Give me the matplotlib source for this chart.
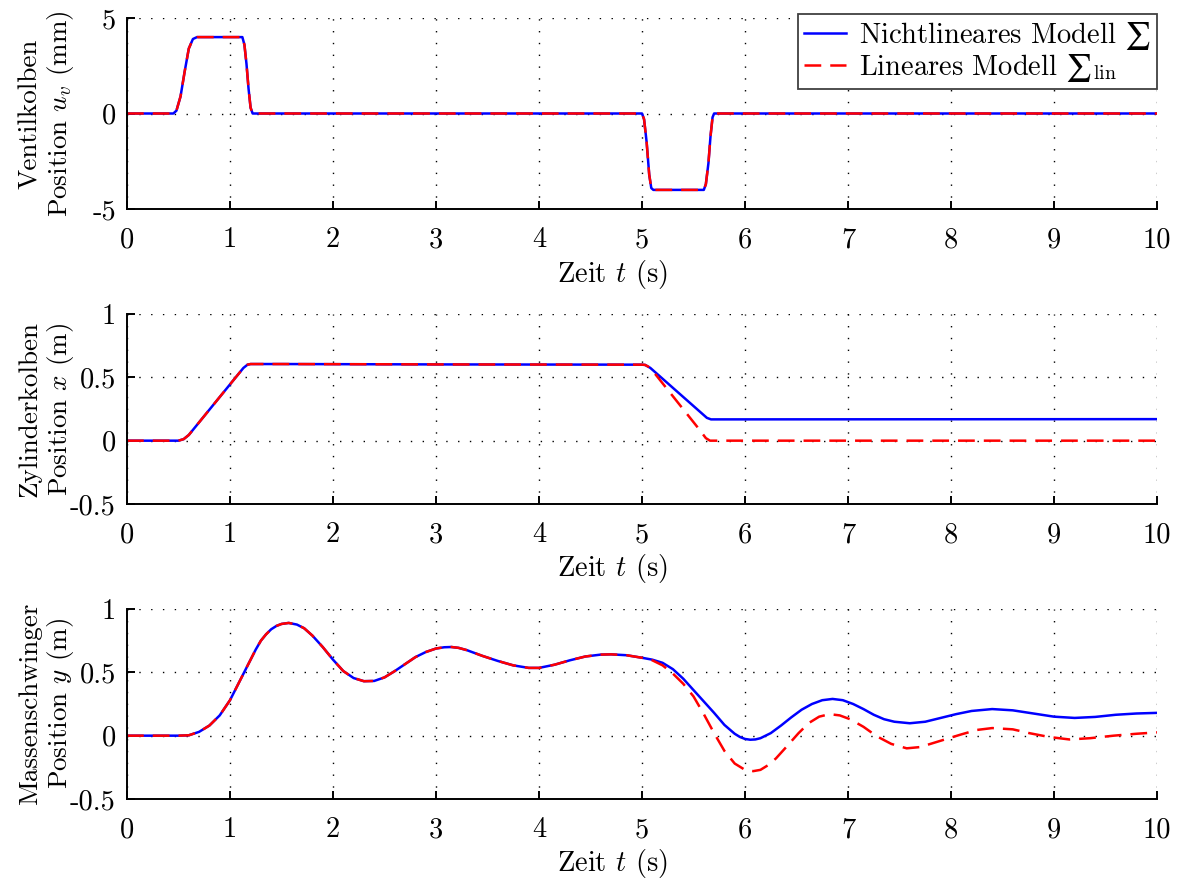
import matplotlib
matplotlib.use("Agg")
import matplotlib.pyplot as plt

plt.rcParams['font.family'] = 'serif'
plt.rcParams['font.serif'] = ['cmr10']
plt.rcParams['mathtext.fontset'] = 'cm'
plt.rcParams['axes.formatter.use_mathtext'] = True
plt.rcParams['axes.unicode_minus'] = False

# ---------------- data ----------------
x_ticks = [0, 1, 2, 3, 4, 5, 6, 7, 8, 9, 10]
x_ticklabels = ['0', '1', '2', '3', '4', '5', '6', '7', '8', '9', '10']

# panel 1: valve piston position u_v (mm)
t_u = [0, 0.45, 0.48, 0.52, 0.56, 0.60, 0.64, 0.68, 1.12, 1.14, 1.16, 1.18,
       1.20, 1.22, 5.00, 5.02, 5.045, 5.07, 5.09, 5.11, 5.60, 5.62, 5.645,
       5.665, 5.685, 5.70, 10]
u_nl = [0, 0, 0.15, 0.9, 2.2, 3.4, 3.9, 4.0, 4.0, 3.6, 2.6, 1.3,
        0.3, 0, 0, -0.3, -1.5, -3.2, -3.9, -4.0, -4.0, -3.7, -2.6,
        -1.2, -0.2, 0, 0]
u_lin = list(u_nl)
u_ticks = [-5, 0, 5]
u_ticklabels = ['-5', '0', '5']

# panel 2: cylinder piston position x (m)
t_x_nl = [0, 0.50, 0.55, 0.60, 1.13, 1.17, 1.20, 1.5, 3.0, 5.0, 5.03, 5.08,
          5.63, 5.67, 10]
x_nl = [0, 0, 0.012, 0.045, 0.574, 0.600, 0.605, 0.605, 0.602, 0.600, 0.598,
        0.575, 0.180, 0.168, 0.170]
t_x_lin = [0, 0.50, 0.55, 0.60, 1.13, 1.17, 1.20, 1.5, 3.0, 5.0, 5.03, 5.06,
           5.10, 5.55, 5.62, 5.66, 10]
x_lin = [0, 0, 0.012, 0.045, 0.574, 0.600, 0.605, 0.605, 0.602, 0.600, 0.598,
         0.585, 0.555, 0.095, 0.02, 0.0, 0.0]
x_ticks_y = [-0.5, 0, 0.5, 1]
x_ticklabels_y = ['-0.5', '0', '0.5', '1']

# panel 3: mass oscillator position y (m)
t_common = [0, 0.5, 0.6, 0.7, 0.8, 0.9, 1.0, 1.1, 1.2, 1.25, 1.3, 1.35, 1.4,
            1.45, 1.5, 1.57, 1.65, 1.72, 1.8, 1.9, 2.0, 2.1, 2.2, 2.3, 2.4,
            2.5, 2.6, 2.7, 2.8, 2.9, 3.0, 3.08, 3.15, 3.22, 3.3, 3.45, 3.6,
            3.75, 3.9, 4.0, 4.15, 4.3, 4.45, 4.6, 4.7, 4.85, 5.0]
y_common = [0, 0, 0.003, 0.03, 0.08, 0.16, 0.28, 0.44, 0.60, 0.68, 0.75,
            0.80, 0.84, 0.866, 0.882, 0.89, 0.877, 0.848, 0.79, 0.70, 0.60,
            0.51, 0.455, 0.43, 0.432, 0.46, 0.51, 0.565, 0.62, 0.66, 0.688,
            0.698, 0.70, 0.693, 0.675, 0.63, 0.59, 0.555, 0.535, 0.535,
            0.56, 0.595, 0.625, 0.64, 0.642, 0.635, 0.615]
t_y_nl = t_common + [5.1, 5.2, 5.3, 5.4, 5.5, 5.6, 5.7, 5.8, 5.9, 5.95, 6.0,
                     6.05, 6.1, 6.15, 6.25, 6.35, 6.45, 6.55, 6.65, 6.75,
                     6.85, 6.95, 7.05, 7.15, 7.25, 7.35, 7.45, 7.6, 7.75, 7.9,
                     8.05, 8.2, 8.4, 8.6, 8.8, 9.0, 9.2, 9.4, 9.6, 9.8, 10]
y_nl = y_common + [0.60, 0.575, 0.525, 0.45, 0.36, 0.27, 0.18, 0.085, 0.015,
                   -0.01, -0.026, -0.032, -0.03, -0.02, 0.02, 0.08, 0.145,
                   0.205, 0.25, 0.28, 0.29, 0.28, 0.25, 0.21, 0.165, 0.13,
                   0.11, 0.098, 0.11, 0.14, 0.17, 0.195, 0.21, 0.20, 0.175,
                   0.15, 0.14, 0.148, 0.165, 0.175, 0.18]
t_y_lin = t_common + [5.1, 5.2, 5.3, 5.4, 5.5, 5.6, 5.7, 5.8, 5.9, 6.0, 6.08,
                      6.15, 6.22, 6.3, 6.4, 6.52, 6.62, 6.72, 6.82, 6.92,
                      7.02, 7.15, 7.28, 7.42, 7.57, 7.7, 7.82, 7.94, 8.1,
                      8.25, 8.4, 8.6, 8.76, 8.95, 9.15, 9.35, 9.58, 9.8, 10]
y_lin = y_common + [0.595, 0.555, 0.49, 0.41, 0.31, 0.17, 0.02, -0.12, -0.22,
                    -0.27, -0.28, -0.27, -0.235, -0.18, -0.09, 0.02, 0.10,
                    0.15, 0.17, 0.16, 0.13, 0.07, -0.005, -0.065, -0.10,
                    -0.09, -0.06, -0.03, 0.01, 0.045, 0.06, 0.05, 0.02, -0.01,
                    -0.03, -0.02, 0.0, 0.015, 0.026]
y_ticks_y = [-0.5, 0, 0.5, 1]
y_ticklabels_y = ['-0.5', '0', '0.5', '1']

labels_legend = ['Nichtlineares Modell $∑$', r'Lineares Modell $∑_{\rm lin}$']
ylabels = ['Ventilkolben\nPosition $u_v$ (mm)',
           'Zylinderkolben\nPosition $x$ (m)',
           'Massenschwinger\nPosition $y$ (m)']
xlabel = 'Zeit $t$ (s)'

# ---------------- figure ----------------
W, H = 1179, 883
fig = plt.figure(figsize=(W / 100, H / 100), dpi=100)

def px_axes(top, bottom, left=127, right=1157):
    return [left / W, 1 - bottom / H, (right - left) / W, (bottom - top) / H]

axes = [fig.add_axes(px_axes(18, 209)),
        fig.add_axes(px_axes(314, 504)),
        fig.add_axes(px_axes(609, 799))]

blue = (0, 0, 1)
red = (1, 0, 0)
FS = 20.5
FS_Y = 19.5

def style(ax, yticks, yticklabels, ylim, ylabel):
    for s in ['top', 'right']:
        ax.spines[s].set_visible(False)
    for s in ['left', 'bottom']:
        ax.spines[s].set_linewidth(1.4)
        ax.spines[s].set_color('black')
    ax.set_xlim(0, 10)
    ax.set_ylim(*ylim)
    ax.set_xticks(x_ticks)
    ax.set_xticklabels(x_ticklabels)
    ax.set_yticks(yticks)
    ax.set_yticklabels(yticklabels)
    ax.grid(True, color='black', linestyle=(0, (1, 7.5)), linewidth=1.0)
    ax.set_axisbelow(True)
    ax.tick_params(axis='x', direction='in', length=6, width=1.4, labelsize=FS,
                   pad=13, top=False)
    ax.tick_params(axis='y', direction='in', length=6, width=1.4, labelsize=FS,
                   pad=8, right=False)
    ax.set_xlabel(xlabel, fontsize=FS)
    ax.xaxis.set_label_coords(0.471, -0.255)
    ax.set_ylabel(ylabel, fontsize=FS_Y, linespacing=1.15)
    ax.yaxis.label.set_va('center')
    ax.yaxis.set_label_coords(-0.0775, 0.5)

lw = 1.8
dash = (6.7, 3.6)

ax = axes[0]
ax.plot(t_u, u_nl, color=blue, lw=lw, label=labels_legend[0])
ax.plot(t_u, u_lin, color=red, lw=lw, dashes=dash, label=labels_legend[1])
style(ax, u_ticks, u_ticklabels, (-5, 5), ylabels[0])
leg = ax.legend(loc='upper right', bbox_to_anchor=(1.0, 1.021),
                borderaxespad=0, fontsize=FS, fancybox=False, framealpha=1,
                edgecolor='#404040', handlelength=1.5, handletextpad=0.45,
                labelspacing=0.0, borderpad=0.2)
leg.get_frame().set_linewidth(1.3)

ax = axes[1]
ax.plot(t_x_nl, x_nl, color=blue, lw=lw)
ax.plot(t_x_lin, x_lin, color=red, lw=lw, dashes=dash)
style(ax, x_ticks_y, x_ticklabels_y, (-0.5, 1), ylabels[1])

ax = axes[2]
ax.plot(t_y_nl, y_nl, color=blue, lw=lw)
ax.plot(t_y_lin, y_lin, color=red, lw=lw, dashes=dash)
style(ax, y_ticks_y, y_ticklabels_y, (-0.5, 1), ylabels[2])

fig.savefig('out.png', dpi=100)
